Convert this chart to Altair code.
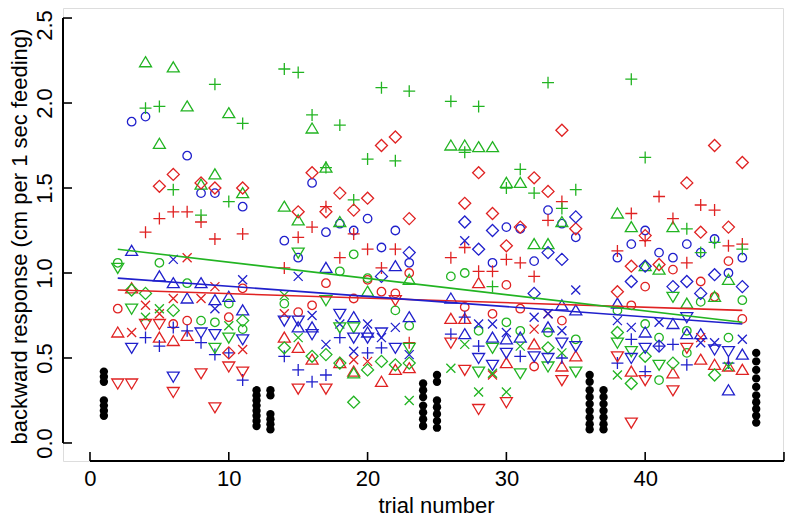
import altair as alt
import pandas as pd

# ---------------- data ----------------
RED_CIRCLE = [[2,0.79],[6,0.70],[7,0.72],[10,0.74],[11,0.91],[15,0.77],[16,0.81],[17,0.94],[19,0.85],[20,0.96],[21,0.89],[22,0.88],[23,1.00],[27,0.80],[29,0.76],[30,0.93],[31,0.79],[32,0.45],[34,0.72],[39,0.81],[40,0.92],[42,1.02],[44,0.95],[45,0.86],[46,1.07],[47,0.73]]
GREEN_CIRCLE = [[2,1.06],[5,1.06],[7,0.94],[8,0.72],[9,0.71],[10,0.82],[11,0.67],[14,0.82],[18,1.01],[19,1.11],[20,0.97],[22,0.78],[23,0.69],[26,0.98],[27,1.00],[28,0.66],[30,0.71],[31,0.66],[33,0.65],[35,0.61],[38,0.78],[40,0.70],[41,0.62],[41,0.37],[43,0.66],[43,0.53],[44,0.83],[46,0.62],[47,0.84]]
BLUE_CIRCLE = [[3,1.89],[4,1.92],[7,1.69],[8,1.47],[9,1.47],[11,1.39],[14,1.19],[15,1.09],[16,1.53],[17,1.24],[18,1.29],[19,1.25],[20,1.32],[21,1.15],[22,1.25],[23,1.06],[29,1.06],[30,1.27],[31,1.26],[32,1.07],[33,1.37],[34,1.29],[35,1.21],[38,1.09],[39,1.17],[40,1.25],[41,1.12],[42,1.09],[43,1.17],[44,1.12],[45,1.20],[46,1.00],[47,1.09]]

RED_TRI = [[2,0.65],[3,0.91],[5,0.62],[6,0.60],[7,0.63],[14,0.62],[15,0.56],[16,0.49],[18,0.47],[19,0.42],[21,0.36],[22,0.43],[23,0.44],[26,0.73],[27,0.73],[28,0.94],[30,0.47],[32,0.58],[34,0.45],[35,0.51],[39,0.42],[42,0.41],[44,0.49],[45,0.46],[46,0.45],[47,0.43]]
GREEN_TRI = [[4,2.24],[5,1.76],[6,2.21],[7,1.98],[8,1.52],[9,1.58],[10,1.94],[11,1.47],[14,1.39],[15,1.31],[16,1.85],[17,1.62],[18,1.30],[19,0.41],[20,0.89],[23,0.96],[26,1.75],[27,1.75],[28,1.74],[29,1.74],[30,1.53],[31,1.53],[32,1.17],[33,1.17],[34,1.30],[38,1.35],[39,1.27],[40,1.04],[41,1.02],[42,1.27],[43,0.82],[45,0.86],[46,0.96]]
BLUE_TRI = [[3,1.13],[5,0.98],[6,0.94],[7,0.85],[8,0.94],[9,0.84],[10,0.86],[11,0.78],[15,0.68],[16,0.68],[17,1.03],[19,0.74],[20,0.65],[22,1.04],[23,0.74],[26,0.85],[27,0.64],[29,0.62],[30,0.61],[31,0.62],[33,0.68],[34,0.81],[35,0.78],[38,0.82],[40,0.65],[42,0.70],[43,0.64],[44,0.64],[46,0.31],[47,0.52]]

RED_PLUS = [[4,1.24],[5,1.32],[6,1.36],[7,1.36],[8,1.30],[9,1.20],[11,1.23],[14,1.03],[15,1.21],[16,1.27],[17,1.39],[18,1.09],[19,1.23],[20,1.14],[21,1.03],[22,1.14],[23,0.59],[26,1.09],[27,1.15],[28,1.01],[29,1.01],[30,1.08],[31,1.06],[32,0.98],[33,1.31],[34,1.42],[38,1.13],[39,1.35],[40,1.19],[41,1.45],[42,1.32],[43,1.06],[44,1.40],[45,1.37],[46,1.16],[47,1.17]]
GREEN_PLUS = [[4,1.97],[5,1.98],[6,1.49],[8,1.34],[9,2.11],[10,1.42],[11,1.88],[14,2.20],[15,2.18],[16,1.93],[17,1.62],[18,1.87],[19,1.43],[20,1.67],[21,2.09],[22,1.66],[23,2.07],[26,2.01],[27,1.71],[28,1.98],[29,0.92],[30,1.50],[31,1.61],[32,1.47],[33,2.12],[34,1.38],[35,1.49],[39,2.14],[40,1.68],[43,1.26],[44,1.12],[45,1.18],[47,1.14]]
BLUE_PLUS = [[4,0.62],[5,0.57],[6,0.68],[7,0.66],[8,0.59],[9,0.52],[10,0.53],[11,0.37],[14,0.51],[15,0.43],[16,0.36],[17,0.40],[18,0.62],[20,0.53],[21,0.56],[26,0.64],[27,0.74],[28,0.57],[31,0.51],[34,0.50],[38,0.47],[39,0.61],[40,0.42],[41,0.57],[42,0.58],[43,0.46],[46,0.47]]

RED_CROSS = [[3,0.65],[4,0.81],[5,0.76],[6,0.85],[7,1.09],[8,0.85],[9,0.92],[11,0.55],[14,0.76],[19,0.49],[20,0.48],[29,0.40],[32,0.67],[33,0.76],[44,0.62]]
GREEN_CROSS = [[4,0.74],[5,0.79],[10,0.69],[14,0.87],[15,0.62],[23,0.25],[26,0.44],[27,0.58],[28,0.30],[29,0.41],[30,0.30],[31,0.57],[34,0.53],[38,0.40],[46,0.45]]
BLUE_CROSS = [[6,1.08],[9,0.79],[11,0.96],[15,0.98],[16,0.75],[17,0.58],[18,0.70],[19,0.54],[20,0.70],[21,0.62],[22,0.68],[23,0.52],[27,1.19],[28,0.70],[29,0.70],[30,0.65],[32,0.74],[33,0.76],[34,0.66],[35,0.90],[38,0.72],[39,0.68],[41,0.71],[44,0.59],[45,0.59],[47,0.61]]

RED_DIAMOND = [[5,1.51],[6,1.58],[8,1.53],[9,1.50],[10,0.53],[11,1.50],[15,1.36],[16,1.59],[17,1.36],[18,1.47],[19,1.37],[20,1.44],[21,1.75],[22,1.80],[23,1.32],[27,1.41],[28,1.59],[29,1.35],[30,1.16],[31,1.27],[32,1.56],[33,1.48],[34,1.84],[35,1.26],[38,0.89],[39,1.04],[40,1.22],[41,1.05],[43,1.53],[44,1.24],[45,1.75],[46,1.27],[47,1.65]]
GREEN_DIAMOND = [[3,0.90],[4,0.88],[6,0.78],[11,0.72],[14,0.56],[16,0.51],[17,0.52],[18,0.47],[19,0.24],[20,0.43],[21,0.48],[22,0.46],[23,0.47],[33,0.56],[38,0.65],[39,0.35],[40,0.51],[42,0.47],[45,0.40]]
BLUE_DIAMOND = [[21,0.98],[23,1.12],[27,1.30],[28,1.14],[29,1.25],[32,0.88],[33,1.12],[34,1.08],[35,1.33],[39,0.95],[40,1.04],[41,0.57],[42,0.92],[43,0.95],[44,0.88],[45,0.99],[47,0.92]]

RED_ITRI = [[2,0.35],[3,0.35],[4,0.70],[5,0.70],[6,0.30],[8,0.41],[9,0.21],[10,0.45],[11,0.42],[15,0.32],[17,0.32],[22,0.84],[26,0.59],[27,0.43],[28,0.20],[30,0.24],[34,0.37],[38,0.51],[39,0.12],[40,0.37],[42,0.31],[43,0.56]]
GREEN_ITRI = [[2,1.03],[3,0.79],[9,0.56],[10,0.62],[15,1.12],[17,0.84],[18,0.68],[19,0.68],[23,0.56],[28,0.42],[29,0.56],[31,0.41],[33,0.45],[35,0.42],[38,0.59],[39,0.54],[41,0.46],[42,0.86]]
BLUE_ITRI = [[3,0.56],[6,0.39],[8,0.65],[9,0.64],[11,0.61],[14,0.72],[15,0.72],[16,0.64],[18,0.76],[19,0.62],[20,0.62],[21,0.65],[22,0.56],[28,0.50],[29,0.46],[30,0.53],[32,0.51],[33,0.50],[34,0.59],[35,0.57],[39,0.50],[40,0.56],[43,0.74],[45,0.55],[46,0.54]]

# control trials (black dots)
CONTROL_TRIALS = [1]*7 + [12]*8 + [13]*6 + [24]*7 + [25]*7 + [36]*9 + [37]*7 + [48]*10
CONTROL_VALUES = [0.42,0.39,0.36,0.25,0.22,0.19,0.16,
                  0.31,0.28,0.25,0.22,0.19,0.16,0.13,0.10,
                  0.31,0.28,0.17,0.14,0.11,0.08,
                  0.35,0.31,0.27,0.22,0.18,0.14,0.10,
                  0.40,0.36,0.25,0.21,0.17,0.13,0.09,
                  0.40,0.36,0.31,0.27,0.23,0.19,0.15,0.11,0.08,
                  0.31,0.27,0.23,0.19,0.15,0.11,0.08,
                  0.53,0.48,0.43,0.38,0.33,0.28,0.24,0.20,0.16,0.12]

# fitted lines (end points)
FIT_TRIALS = [2, 47]
RED_FIT = [0.90, 0.78]
GREEN_FIT = [1.14, 0.71]
BLUE_FIT = [0.97, 0.70]

X_TICKS = [0, 10, 20, 30, 40, 50]
Y_TICKS = [0.0, 0.5, 1.0, 1.5, 2.0, 2.5]

# ---------------- build tables ----------------
series = {
    ("red", "circle"): RED_CIRCLE, ("green", "circle"): GREEN_CIRCLE, ("blue", "circle"): BLUE_CIRCLE,
    ("red", "tri"): RED_TRI, ("green", "tri"): GREEN_TRI, ("blue", "tri"): BLUE_TRI,
    ("red", "plus"): RED_PLUS, ("green", "plus"): GREEN_PLUS, ("blue", "plus"): BLUE_PLUS,
    ("red", "cross"): RED_CROSS, ("green", "cross"): GREEN_CROSS, ("blue", "cross"): BLUE_CROSS,
    ("red", "diamond"): RED_DIAMOND, ("green", "diamond"): GREEN_DIAMOND, ("blue", "diamond"): BLUE_DIAMOND,
    ("red", "itri"): RED_ITRI, ("green", "itri"): GREEN_ITRI, ("blue", "itri"): BLUE_ITRI,
}
rows = []
for (col, shp), pts in series.items():
    for t, v in pts:
        rows.append({"trial": t, "value": v, "grp": col, "shp": shp})
pts_df = pd.DataFrame(rows)

ctrl_df = pd.DataFrame({"trial": CONTROL_TRIALS, "value": CONTROL_VALUES})

fit_rows = []
for col, vals in (("red", RED_FIT), ("green", GREEN_FIT), ("blue", BLUE_FIT)):
    for t, v in zip(FIT_TRIALS, vals):
        fit_rows.append({"trial": t, "value": v, "grp": col})
fit_df = pd.DataFrame(fit_rows)

xt_df = pd.DataFrame({"tick": X_TICKS})
yt_df = pd.DataFrame({"tick": Y_TICKS})

# ---------------- scales ----------------
W, H = 720, 453
FONT = "Liberation Sans"
xscale = alt.Scale(domain=[-1.945, 49.93], nice=False, zero=False)
yscale = alt.Scale(domain=[-0.106, 2.559], nice=False, zero=False)
color_scale = alt.Scale(domain=["red", "green", "blue"], range=["#E02222", "#22B422", "#2020CC"])
shape_scale = alt.Scale(
    domain=["circle", "tri", "plus", "cross", "diamond", "itri"],
    range=[
        "circle",
        "M0,-1.3L1.41,1.06L-1.41,1.06Z",
        "M-1.41,0L1.41,0M0,-1.41L0,1.41",
        "M-1.06,-1.06L1.06,1.06M-1.06,1.06L1.06,-1.06",
        "M-1.41,0L0,-1.41L1.41,0L0,1.41Z",
        "M0,1.3L1.41,-1.06L-1.41,-1.06Z",
    ],
)

x_axis = alt.Axis(values=X_TICKS, format="d", ticks=False, domain=False, grid=False,
                  labelFont=FONT, labelFontSize=22, labelColor="black", labelPadding=7,
                  title="trial number", titleFont=FONT, titleFontSize=22, titleFontWeight="normal",
                  titleColor="black", titleX=373, titleY=51, titleAlign="center",
                  titleBaseline="alphabetic")
y_axis = alt.Axis(values=Y_TICKS, format=".1f", ticks=False, domain=False, grid=False,
                  labelFont=FONT, labelFontSize=22, labelColor="black", labelPadding=7,
                  labelAngle=270, labelAlign="center", labelBaseline="bottom",
                  labelOffset={"condition": {"test": "datum.value >= 2.5", "value": 7}, "value": 0},
                  title="backward response (cm per 1 sec feeding)", titleFont=FONT, titleFontSize=22,
                  titleFontWeight="normal", titleColor="black", titleAngle=270,
                  titleX=-44, titleY=228, titleAlign="center", titleBaseline="middle")

points = alt.Chart(pts_df).mark_point(filled=False, size=72.25, strokeWidth=1.3, opacity=1).encode(
    x=alt.X("trial:Q", scale=xscale, axis=x_axis),
    y=alt.Y("value:Q", scale=yscale, axis=y_axis),
    color=alt.Color("grp:N", scale=color_scale, legend=None),
    shape=alt.Shape("shp:N", scale=shape_scale, legend=None),
)

control = alt.Chart(ctrl_df).mark_circle(size=70, color="black", opacity=1).encode(
    x=alt.X("trial:Q", scale=xscale),
    y=alt.Y("value:Q", scale=yscale),
)

fits = alt.Chart(fit_df).mark_line(strokeWidth=1.6).encode(
    x=alt.X("trial:Q", scale=xscale),
    y=alt.Y("value:Q", scale=yscale),
    color=alt.Color("grp:N", scale=color_scale, legend=None),
    detail="grp:N",
)

x_line = alt.Chart(xt_df).mark_rule(color="black", strokeWidth=1.6).encode(
    x=alt.datum(0), x2=alt.datum(50), y=alt.value(H))
y_line = alt.Chart(yt_df).mark_rule(color="black", strokeWidth=1.6).encode(
    y=alt.datum(0.0), y2=alt.datum(2.5), x=alt.value(0))
x_ticks = alt.Chart(xt_df).mark_rule(color="black", strokeWidth=1.6).encode(
    x=alt.X("tick:Q", scale=xscale), y=alt.value(H), y2=alt.value(H - 9))
y_ticks = alt.Chart(yt_df).mark_rule(color="black", strokeWidth=1.6).encode(
    y=alt.Y("tick:Q", scale=yscale), x=alt.value(0), x2=alt.value(9))

chart = alt.layer(points, control, fits, x_line, y_line, x_ticks, y_ticks).properties(
    width=W, height=H,
    autosize=alt.AutoSizeParams(type="none"),
    padding={"left": 55, "top": 0, "right": 8, "bottom": 57},
).configure_view(stroke=None).configure(background="white")

chart.save("out.html", embed_options={"renderer": "svg", "actions": False})
